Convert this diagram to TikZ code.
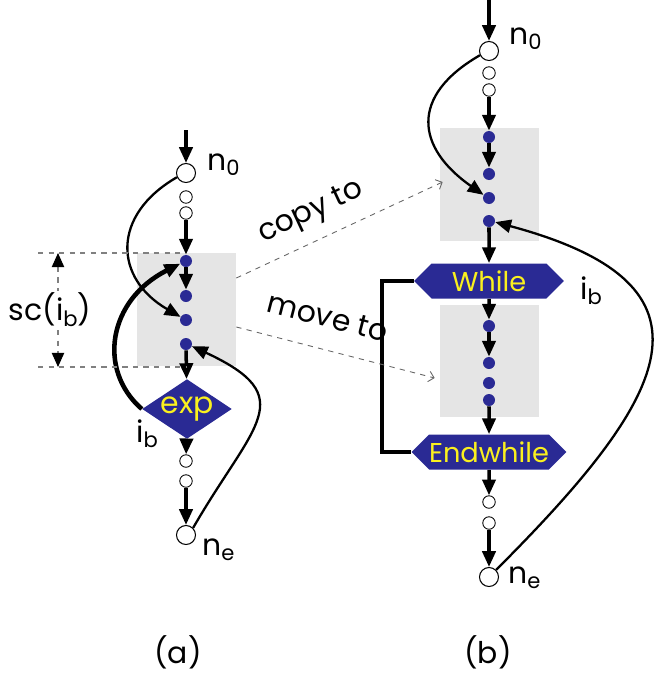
\documentclass[tikz,border=0pt]{standalone}
\usepackage{fontspec}
\setmainfont{Poppins}
\usetikzlibrary{positioning,arrows.meta,shapes.geometric,shapes.symbols}
\definecolor{dotblue}{RGB}{42,42,148}
\definecolor{boxgray}{RGB}{229,229,229}
\definecolor{txtyellow}{RGB}{250,240,30}
\newcommand{\lowsub}[1]{\raisebox{-0.35ex}{\fontsize{12}{14}\selectfont #1}}

\begin{document}
\begin{tikzpicture}[x=0.02cm, y=-0.02cm,
  font=\fontsize{17}{20}\selectfont, >={Triangle[length=9pt,width=7.5pt]},
  bigc/.style={draw, circle, fill=white, minimum size=0.38cm, inner sep=0pt, line width=0.6pt},
  smallc/.style={draw, circle, fill=white, minimum size=0.25cm, inner sep=0pt, line width=0.5pt},
  dot/.style={circle, fill=dotblue, minimum size=0.24cm, inner sep=0pt},
  cond/.style={diamond, fill=dotblue, text=txtyellow, aspect=1.5, inner sep=0pt,
               minimum width=1.36cm, minimum height=0.88cm, font=\fontsize{17}{19}\selectfont},
  loopbox/.style={signal, signal to=west and east, fill=dotblue, text=txtyellow, inner sep=0pt,
                  minimum width=3cm, minimum height=0.7cm, font=\fontsize{15.5}{18}\selectfont},
  grayb/.style={fill=boxgray, minimum width=1.98cm, inner sep=0pt},
  lbl/.style={inner sep=0pt, anchor=base west},
  arr/.style={->, line width=2pt},
  curv/.style={->, line width=1.3pt},
  bigcurv/.style={->, line width=2.6pt},
  dimln/.style={dashed, gray, line width=0.6pt},
  hint/.style={dashed, gray!80!black, line width=0.5pt, -{Straight Barb[length=3pt,width=6pt]}},
]
\useasboundingbox (0,0) rectangle (653,673);

% (a) Ausgangsgraph
\node[grayb, minimum height=2.26cm] (boxa) at (186.5,309.5) {};
\coordinate (atop) at (186,130);
\node[bigc]   (n0a) at (186,173) {};
\node[smallc] (s1a) at (186,197) {};
\node[smallc] (s2a) at (186,213) {};
\node[dot]    (d1a) at (186,261) {};
\node[dot]    (d2a) at (186,296) {};
\node[dot]    (d3a) at (186,320) {};
\node[dot]    (d4a) at (186,344) {};
\node[cond]   (expa) at (187,409) {exp};
\node[smallc] (s3a) at (186,461) {};
\node[smallc] (s4a) at (186,481) {};
\node[bigc]   (nea) at (186,535) {};

\node[lbl] (n0alab) at (207,170) {n\lowsub{0}};
\node[lbl] (nealab) at (202,555) {n\lowsub{e}};
\node[lbl] (ibalab) at (136,442) {i\lowsub{b}};

\draw[arr] (atop) -- (n0a);
\draw[arr] (s2a) -- (d1a);
\draw[arr] (d1a) -- (d2a);
\draw[arr] (d4a) -- (expa);
\draw[arr] (expa) -- (s3a);
\draw[arr] (s4a) -- (nea);

\draw[curv] (n0a.205) to[out=210, in=150, looseness=1.4] (d3a.150);
\draw[bigcurv] (expa.west) .. controls (97,370) and (108,300) .. (d1a.205);
\draw[curv] (nea.45) to[out=60, in=-25, looseness=1.7] (d4a.-20);

% Bemassung sc(i_b)
\coordinate (dtl) at (38,253);
\coordinate (dtr) at (180,253);
\coordinate (dbl) at (38,367);
\coordinate (dbr) at (186,367);
\coordinate (dup) at (58,253);
\coordinate (ddn) at (58,367);
\draw[dimln] (dtl) -- (dtr);
\draw[dimln] (dbl) -- (dbr);
\draw[dimln, {Triangle[length=8pt,width=7pt,color=black]}-{Triangle[length=8pt,width=7pt,color=black]}] (dup) --
  node[fill=white, text=black, inner sep=1pt, xshift=-0.16cm] (sclab) {sc(i\lowsub{b})} (ddn);

% (b) nach der Umformung
\node[grayb, minimum height=2.26cm] (boxb1) at (489.5,184.5) {};
\node[grayb, minimum height=2.24cm] (boxb2) at (489.5,361) {};
\coordinate (btop) at (489,0);
\node[bigc]   (n0b) at (489,51) {};
\node[smallc] (s1b) at (489,73) {};
\node[smallc] (s2b) at (489,90) {};
\node[dot]    (d1b) at (489,137) {};
\node[dot]    (d2b) at (489,174) {};
\node[dot]    (d3b) at (489,198) {};
\node[dot]    (d4b) at (489,221) {};
\node[loopbox] (whileb) at (489,281) {While};
\node[dot]    (e1b) at (489,326) {};
\node[dot]    (e2b) at (489,363) {};
\node[dot]    (e3b) at (489,383) {};
\node[dot]    (e4b) at (489,400) {};
\node[loopbox] (endb) at (489,452) {Endwhile};
\node[smallc] (s3b) at (489,502) {};
\node[smallc] (s4b) at (489,523) {};
\node[bigc]   (neb) at (489,577) {};

\node[lbl] (n0blab) at (509,44) {n\lowsub{0}};
\node[lbl] (neblab) at (508,583) {n\lowsub{e}};
\node[lbl] (ibblab) at (580,299) {i\lowsub{b}};

\draw[arr] (btop) -- (n0b);
\draw[arr] (s2b) -- (d1b);
\draw[arr] (d1b) -- (d2b);
\draw[arr] (d4b) -- (whileb);
\draw[arr] (whileb) -- (e1b);
\draw[arr] (e1b) -- (e2b);
\draw[arr] (e4b) -- (endb);
\draw[arr] (endb) -- (s3b);
\draw[arr] (s4b) -- (neb);

\coordinate (brk) at (382,281);
\draw[line width=2.6pt] (whileb.west) -- (brk) |- (endb.west);

\draw[curv] (n0b.205) to[out=210, in=145, looseness=1.5] (d3b.150);
\draw[curv] (neb.45) to[out=45, in=-15, looseness=1.8] (d4b.-10);

% Verweise zwischen (a) und (b)
\draw[hint] ([yshift=0.63cm]boxa.east) -- node[sloped, pos=0.42, above=4pt, text=black] (cplab) {copy to} ([xshift=0.06cm, yshift=0.05cm]boxb1.west);
\draw[hint] ([yshift=-0.35cm]boxa.east) -- node[sloped, pos=0.42, above=9pt, text=black] (mvlab) {move to} ([xshift=-0.1cm, yshift=-0.34cm]boxb2.west);

\node (capa) at (178,652) {(a)};
\node (capb) at (488,652) {(b)};
\end{tikzpicture}
\end{document}
